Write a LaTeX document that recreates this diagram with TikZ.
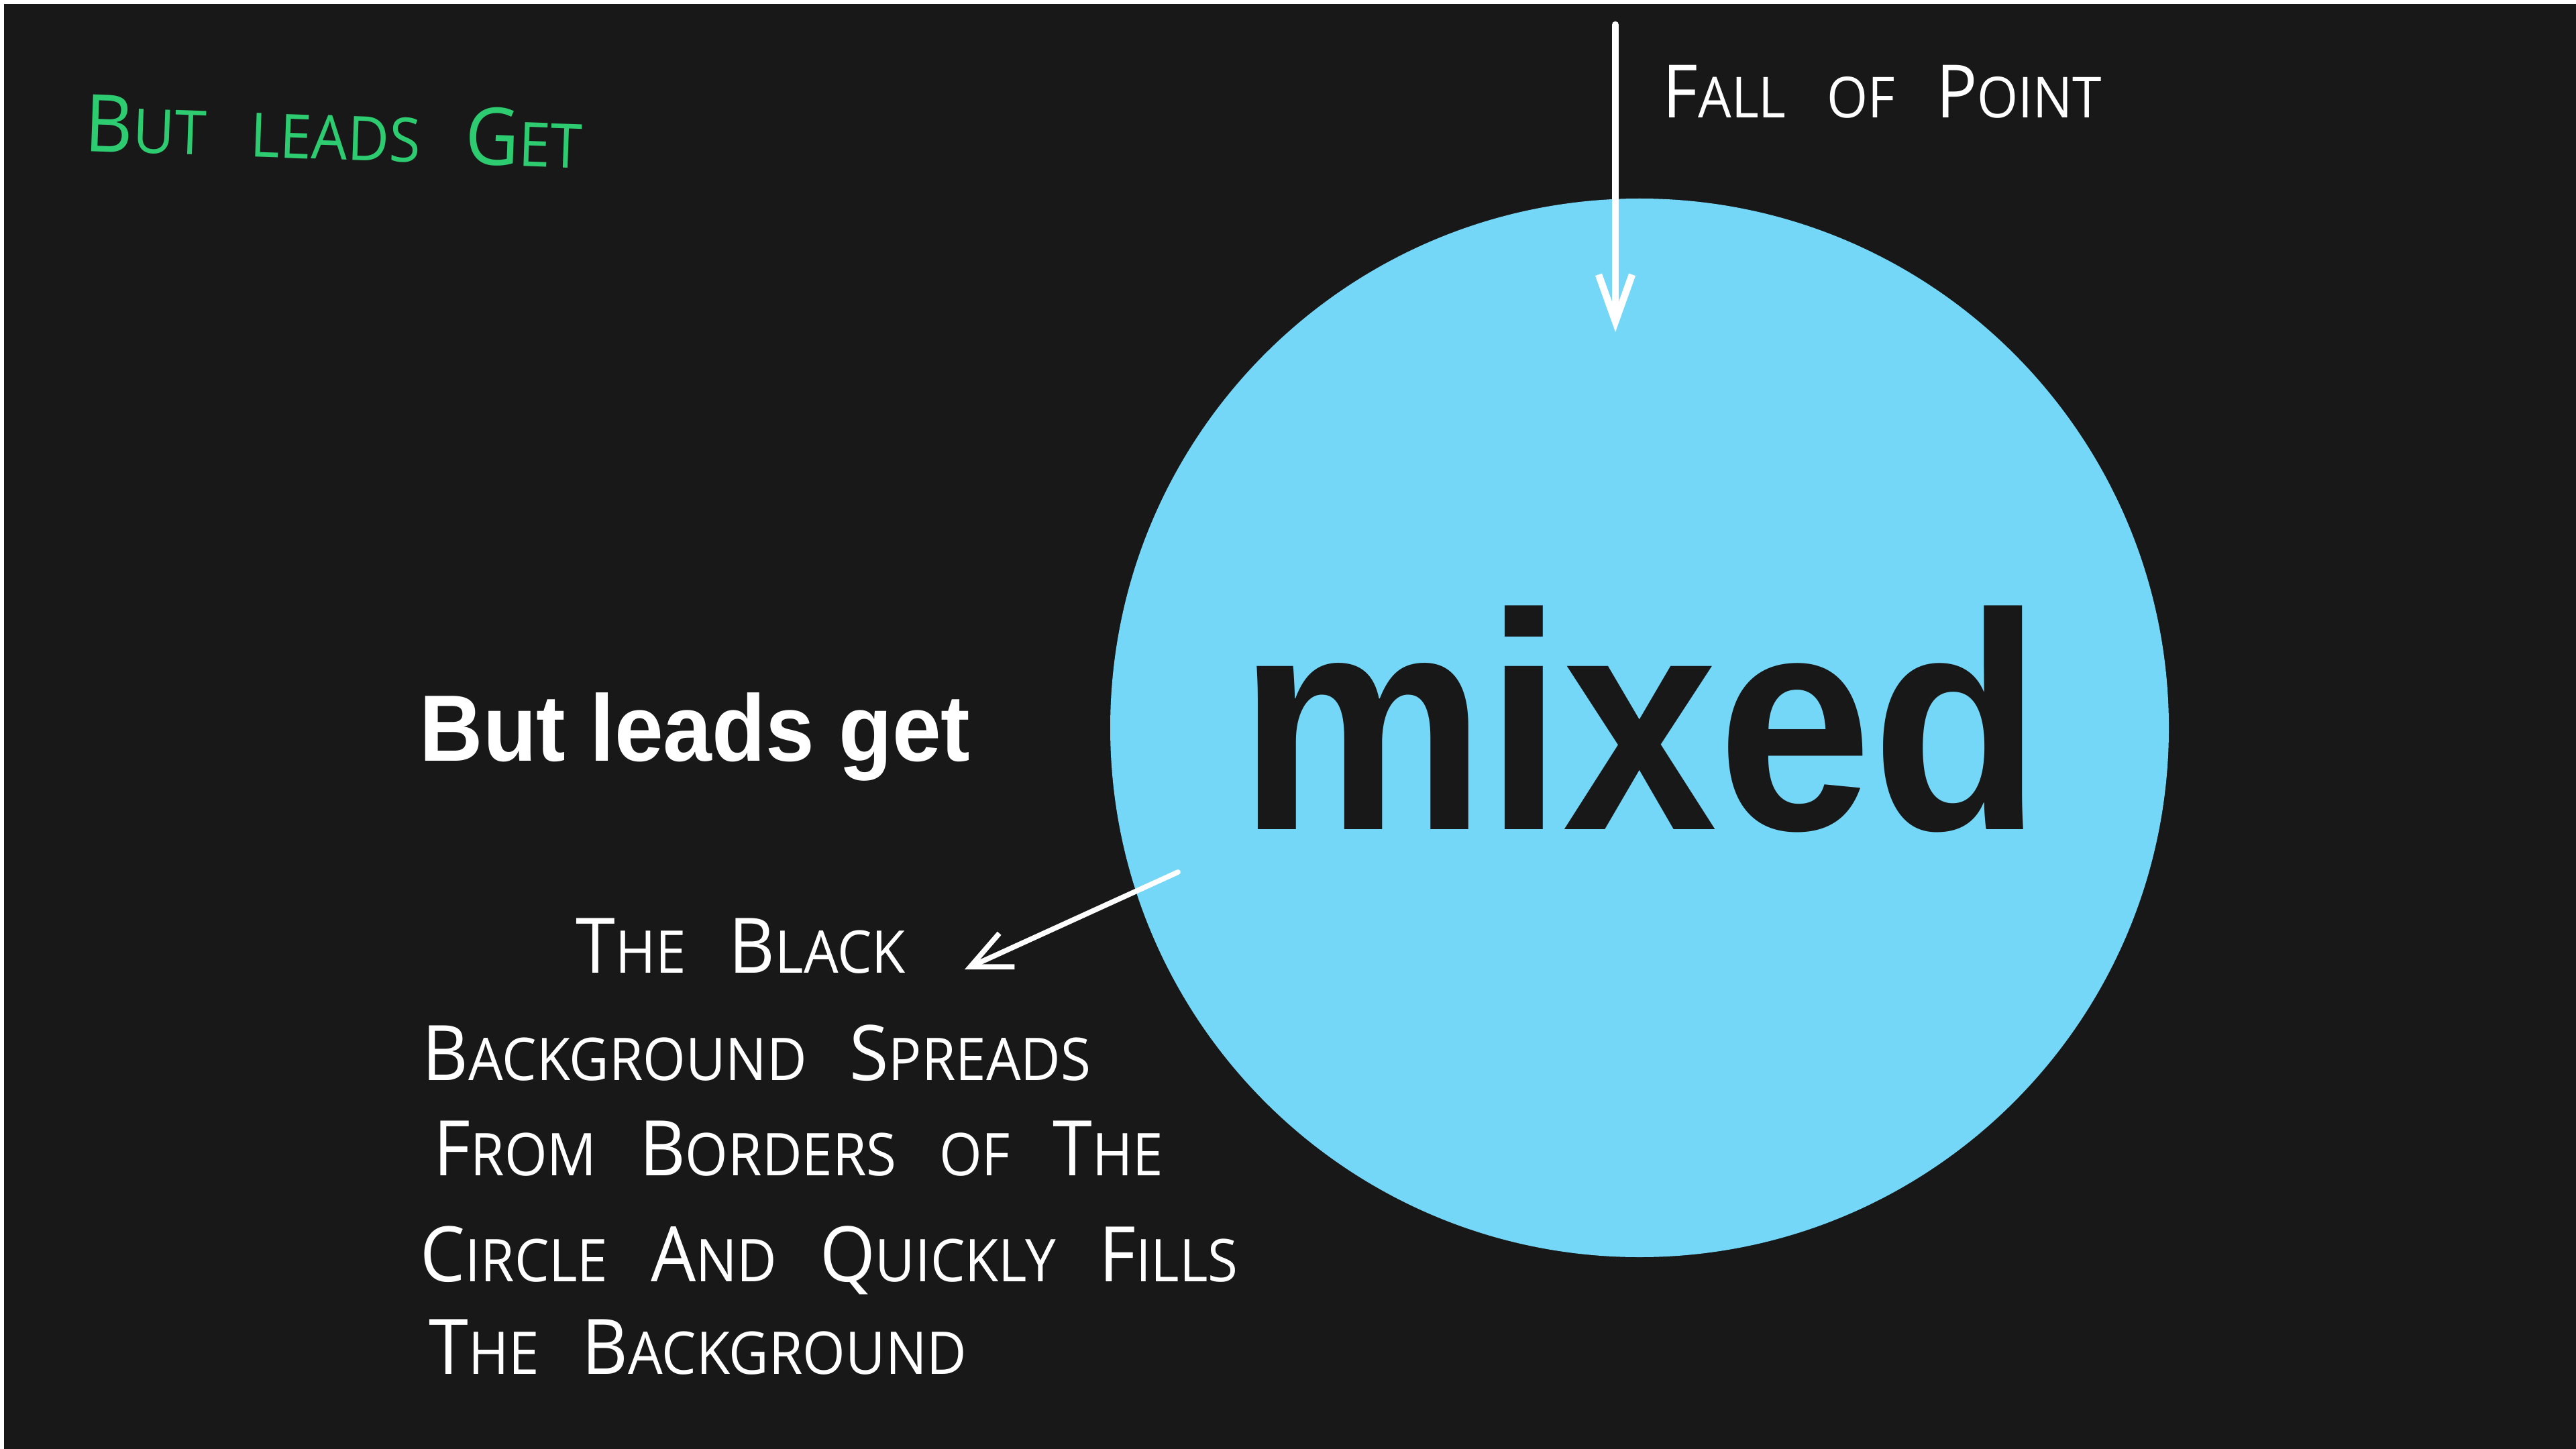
\documentclass[tikz,border=0pt]{standalone}
\usepackage{fontspec}
\usepackage{tikz}
\usetikzlibrary{arrows.meta}
\setmainfont{Liberation Sans}
\newfontfamily\handfont[FakeStretch=0.93,WordSpace=3]{Open Sans}
\definecolor{slate}{HTML}{181818}
\definecolor{skyblue}{HTML}{74D7F7}
\definecolor{markergreen}{HTML}{2ECC71}
\newcommand{\hwbig}[1]{\scalebox{1.3}{#1}}

\begin{document}
\begin{tikzpicture}[
  hand/.style={font=\handfont\fontsize{25}{25}\selectfont, text=white, anchor=base west, inner sep=0pt},
  pen/.style={white, line width=3pt, line cap=round, line join=round,
    -{Straight Barb[length=7mm,width=5mm]}}
]
  % white frame and the dark slide
  \fill[white] (0,0) rectangle (38.4,-21.6);
  \fill[slate] (0.06,-0.06) rectangle (38.4,-21.6);
  \useasboundingbox (0,0) rectangle (38.4,-21.6);
  % the blue disc and its word
  \node[circle, fill=skyblue, minimum size=15.78cm, inner sep=0pt] (disc) at (24.44,-10.85) {};
  \node[anchor=base, inner sep=0pt, text=slate, font=\bfseries\fontsize{131}{131}\selectfont] (mixedword) at (24.45,-12.36) {\scalebox{0.9}[1]{mixed}};
  % printed title left of the disc
  \node[anchor=base west, inner sep=0pt, text=white, font=\bfseries\fontsize{40}{40}\selectfont] (leadtitle) at (6.25,-11.34) {\scalebox{0.93}[1]{But leads get}};
  % green scribble, top left
  \node[hand, text=markergreen, rotate=-2, font=\handfont\fontsize{26}{26}\selectfont] (greennote) at (1.25,-2.25) {\hwbig{B}UT LEADS \hwbig{G}ET};
  % falling arrow with its note
  \node[hand, font=\handfont\fontsize{24}{24}\selectfont] (fallnote) at (24.78,-1.76) {\hwbig{F}ALL OF \hwbig{P}OINT};
  \coordinate (fallstart) at (24.08,-0.37);
  \coordinate (falltip) at (24.08,-4.95);
  \draw[pen] (fallstart) -- (falltip);
  % hand note below the title
  \node[hand] (noteA) at (8.58,-14.50) {\hwbig{T}HE \hwbig{B}LACK};
  \node[hand] (noteB) at (6.29,-16.10) {\hwbig{B}ACKGROUND \hwbig{S}PREADS};
  \node[hand] (noteC) at (6.46,-17.52) {\hwbig{F}ROM \hwbig{B}ORDERS OF \hwbig{T}HE};
  \node[hand] (noteD) at (6.26,-19.10) {\hwbig{C}IRCLE \hwbig{A}ND \hwbig{Q}UICKLY \hwbig{F}ILLS};
  \node[hand] (noteE) at (6.39,-20.48) {\hwbig{T}HE \hwbig{B}ACKGROUND};
  % arrow from the disc edge to the note
  \coordinate (spreadstart) at (17.56,-13.00);
  \coordinate (spreadtip) at (14.38,-14.45);
  \draw[pen, line width=2.2pt, -{Straight Barb[length=6mm,width=5.5mm]}] (spreadstart) -- (spreadtip);
\end{tikzpicture}
\end{document}
